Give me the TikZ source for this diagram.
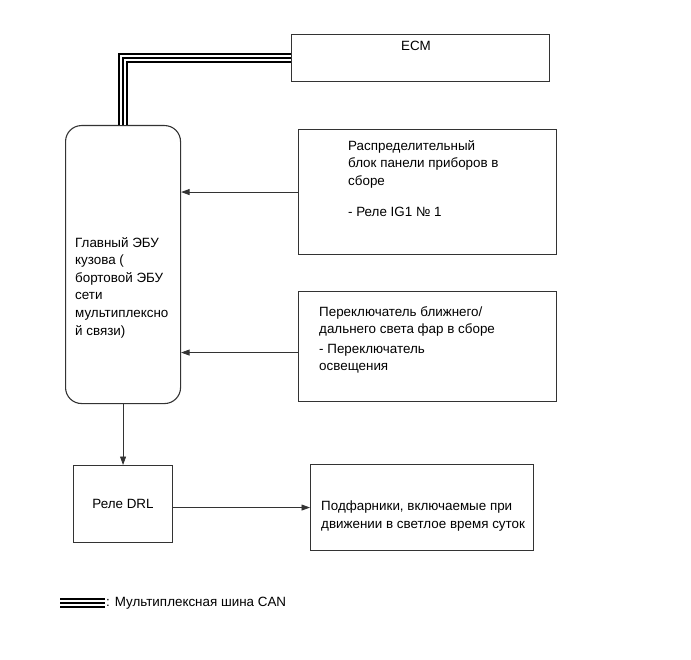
\documentclass[tikz,border=0pt]{standalone}
\usepackage{fontspec}
\setmainfont{Liberation Sans}
\usetikzlibrary{arrows.meta}
\definecolor{edge}{HTML}{333333}
\tikzset{
  blk/.style={draw=edge,line width=1.1pt,inner sep=0pt,anchor=north west},
  txt/.style={inner sep=0pt,align=left,font=\fontsize{13.4}{17.6}\selectfont},
  arr/.style={draw=edge,line width=0.8pt,-{Triangle[length=8.5pt,width=6pt]}},
  canbus/.style={line width=10pt,line join=miter,postaction={draw=white,line width=6.4pt},postaction={draw=black,line width=1.4pt}}
}

\begin{document}
\begin{tikzpicture}[x=1pt,y=-1pt]
\useasboundingbox (0,0) rectangle (691,660);
% blocks
\node[blk,minimum width=258pt,minimum height=47pt] (ecm) at (291,34) {};
\node[blk,rounded corners=16pt,minimum width=115pt,minimum height=278pt] (ecu) at (65,125) {};
\node[blk,minimum width=258pt,minimum height=125pt] (dist) at (298,129) {};
\node[blk,minimum width=258pt,minimum height=110pt] (sw) at (298,291) {};
\node[blk,txt,minimum width=99pt,minimum height=77pt] (drl) at (73,465) {Реле DRL};
\node[blk,minimum width=223pt,minimum height=86pt] (lamps) at (310,464) {};
% texts
\node[txt] (ecmT) at (416,46) {ECM};
\node[txt,anchor=north west] (distT) at (348,140) {Распределительный\\блок панели приборов в\\сборе\\[14pt]- Реле IG1 № 1};
\node[txt,anchor=north west] (swT) at (319,306) {Переключатель ближнего/\\дальнего света фар в сборе\\[2pt]- Переключатель\\освещения};
\node[txt,anchor=north west] (ecuT) at (75,237) {Главный ЭБУ\\кузова (\\бортовой ЭБУ\\сети\\мультиплексно\\й связи)};
\node[txt,anchor=north west] (lampsT) at (321,501) {Подфарники, включаемые при\\движении в светлое время суток};
% connections
\draw[canbus] (ecm.west) -| (ecu.north);
\draw[arr] (dist.west) -- (dist.west -| ecu.east);
\draw[arr] ([yshift=-6pt]sw.west) -- ([yshift=-6pt]sw.west -| ecu.east);
\draw[arr] (ecu.south) -- (drl.north);
\draw[arr] (lamps.west -| drl.east) -- (lamps.west);
% legend
\coordinate (lg1) at (60,603);
\coordinate (lg2) at (105,603);
\draw[canbus] (lg1) -- (lg2);
\node[txt,anchor=west] (lgT) at ([xshift=1pt]lg2) {: Мультиплексная шина CAN};
\end{tikzpicture}
\end{document}
